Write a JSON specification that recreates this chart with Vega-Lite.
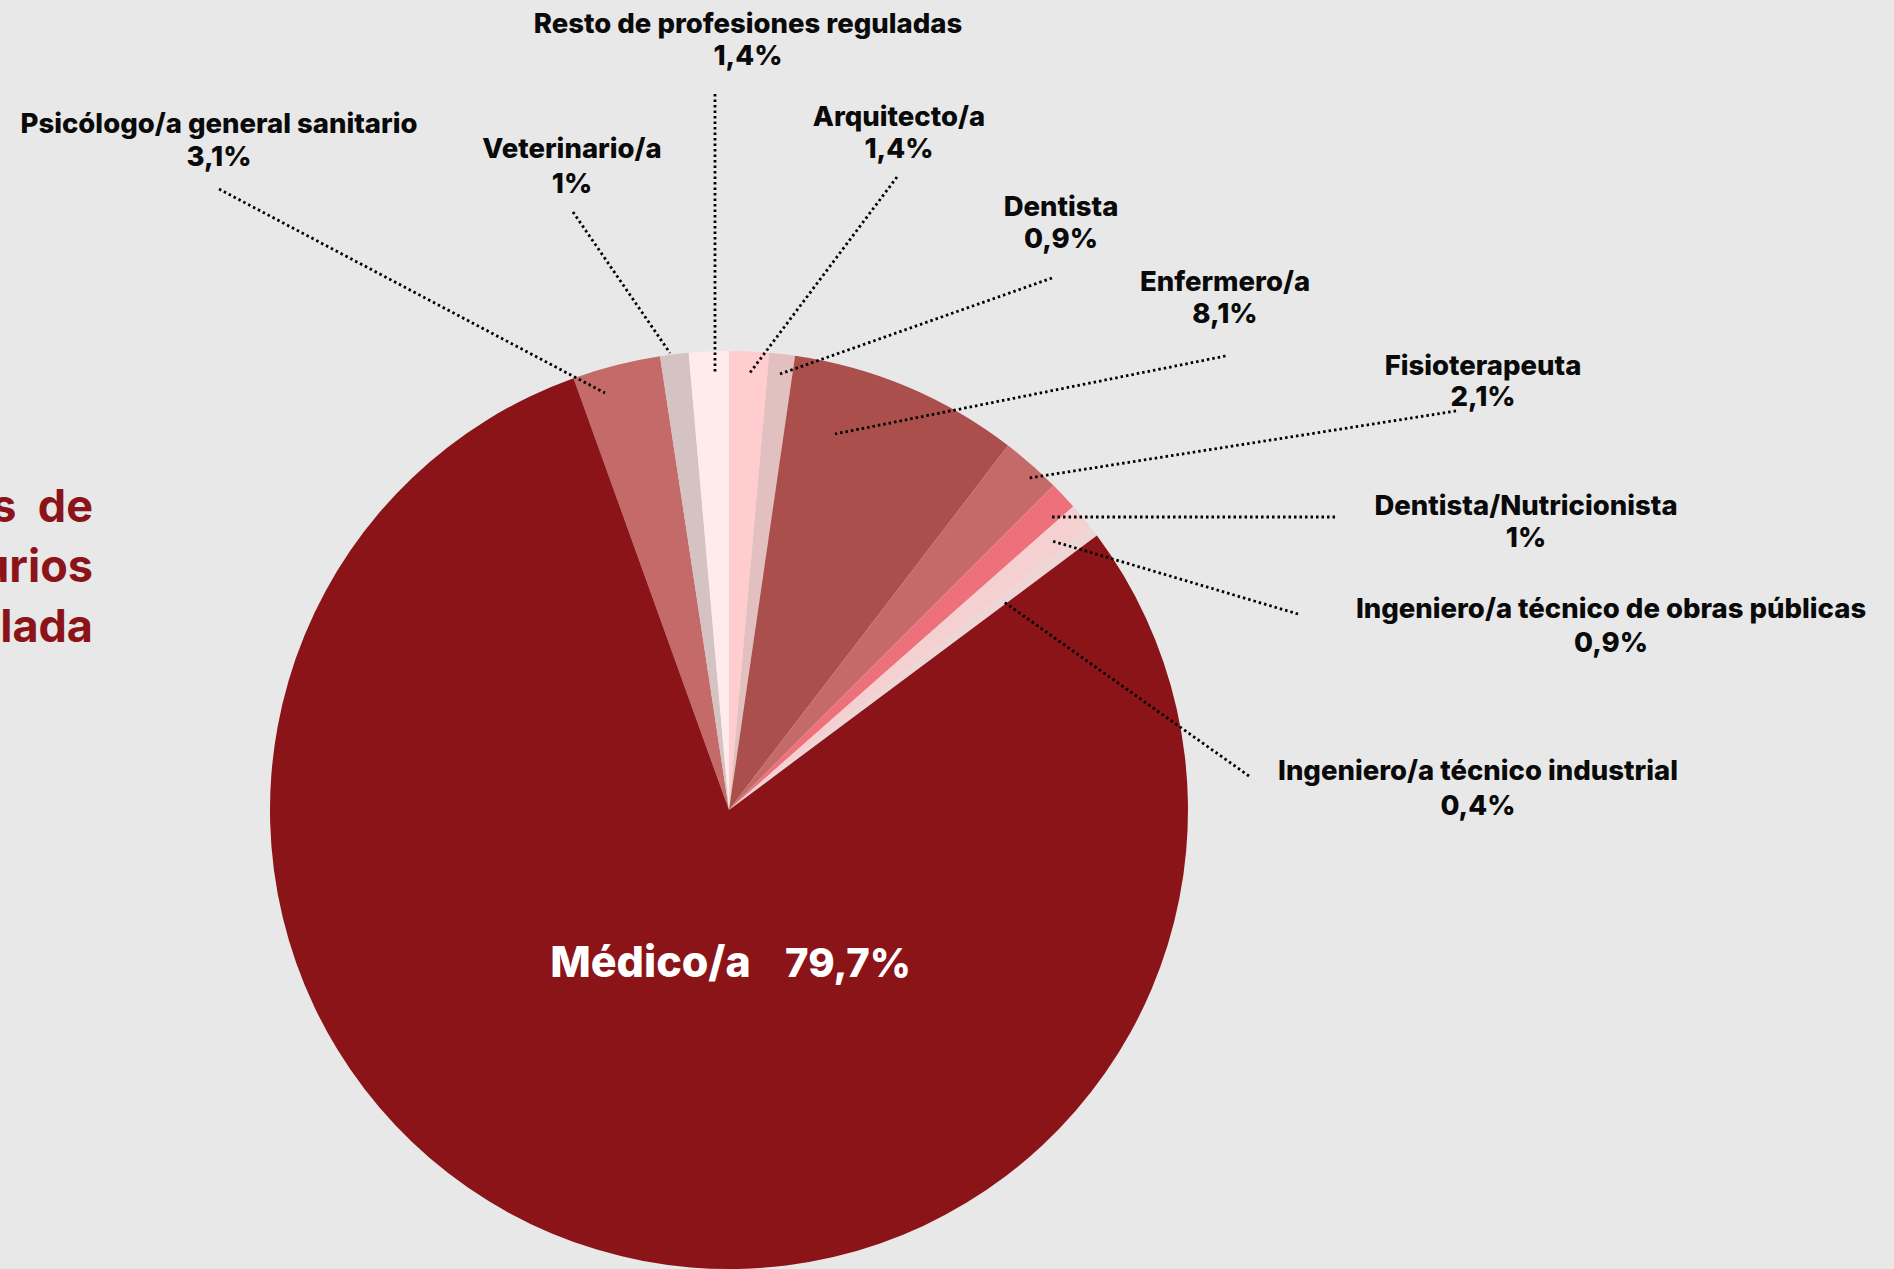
{
  "$schema": "https://vega.github.io/schema/vega-lite/v6.json",
  "width": 1894,
  "height": 1269,
  "autosize": {"type": "none"},
  "padding": 0,
  "background": "#E8E8E8",
  "config": {
    "view": {"stroke": null},
    "locale": {"number": {"decimal": ",", "thousands": ".", "grouping": [3], "currency": ["", " €"]}},
    "text": {"font": "Inter", "fontWeight": 800}
  },
  "datasets": {
    "cuotas": [
      {"profesion": "Psicólogo/a general sanitario", "cuota": 0.031, "orden": 1},
      {"profesion": "Veterinario/a", "cuota": 0.01, "orden": 2},
      {"profesion": "Resto de profesiones reguladas", "cuota": 0.014, "orden": 3},
      {"profesion": "Arquitecto/a", "cuota": 0.014, "orden": 4},
      {"profesion": "Dentista", "cuota": 0.009, "orden": 5},
      {"profesion": "Enfermero/a", "cuota": 0.081, "orden": 6},
      {"profesion": "Fisioterapeuta", "cuota": 0.021, "orden": 7},
      {"profesion": "Dentista/Nutricionista", "cuota": 0.01, "orden": 8},
      {"profesion": "Ingeniero/a técnico de obras públicas", "cuota": 0.009, "orden": 9},
      {"profesion": "Ingeniero/a técnico industrial", "cuota": 0.004, "orden": 10},
      {"profesion": "Médico/a", "cuota": 0.797, "orden": 11}
    ],
    "etiquetas": [
      {"profesion": "Psicólogo/a general sanitario", "nx": -1.1111, "ny": 1.4749, "px": -1.1111, "py": 1.4031},
      {"profesion": "Veterinario/a", "nx": -0.342, "ny": 1.4205, "px": -0.342, "py": 1.3442},
      {"profesion": "Resto de profesiones reguladas", "nx": 0.0414, "ny": 1.6928, "px": 0.0414, "py": 1.6231},
      {"profesion": "Arquitecto/a", "nx": 0.3704, "ny": 1.4902, "px": 0.3704, "py": 1.4205},
      {"profesion": "Dentista", "nx": 0.7233, "ny": 1.2941, "px": 0.7233, "py": 1.2244},
      {"profesion": "Enfermero/a", "nx": 1.0806, "ny": 1.1307, "px": 1.0806, "py": 1.061},
      {"profesion": "Fisioterapeuta", "nx": 1.6427, "ny": 0.9477, "px": 1.6427, "py": 0.8802},
      {"profesion": "Dentista/Nutricionista", "nx": 1.7364, "ny": 0.6427, "px": 1.7364, "py": 0.573},
      {"profesion": "Ingeniero/a técnico de obras públicas", "nx": 1.9216, "ny": 0.4183, "px": 1.9216, "py": 0.3442},
      {"profesion": "Ingeniero/a técnico industrial", "nx": 1.6318, "ny": 0.0654, "px": 1.6318, "py": -0.0109},
      {"profesion": "Médico/a", "nx": -0.171, "ny": -0.3638, "px": 0.2593, "py": -0.3638}
    ],
    "guias": [
      {"profesion": "Psicólogo/a general sanitario", "ax": -1.1111, "ay": 1.3529, "bx": -0.2702, "by": 0.9085},
      {"profesion": "Veterinario/a", "ax": -0.3399, "ay": 1.3028, "bx": -0.1285, "by": 0.9956},
      {"profesion": "Resto de profesiones reguladas", "ax": -0.0305, "ay": 1.5599, "bx": -0.0305, "by": 0.9521},
      {"profesion": "Arquitecto/a", "ax": 0.366, "ay": 1.3791, "bx": 0.0436, "by": 0.9499},
      {"profesion": "Dentista", "ax": 0.7037, "ay": 1.159, "bx": 0.1111, "by": 0.9499},
      {"profesion": "Enfermero/a", "ax": 1.0817, "ay": 0.9891, "bx": 0.2309, "by": 0.8192},
      {"profesion": "Fisioterapeuta", "ax": 1.5839, "ay": 0.8693, "bx": 0.6536, "by": 0.7233},
      {"profesion": "Dentista/Nutricionista", "ax": 1.3203, "ay": 0.6383, "bx": 0.6972, "by": 0.6383},
      {"profesion": "Ingeniero/a técnico de obras públicas", "ax": 1.2397, "ay": 0.427, "bx": 0.7037, "by": 0.5861},
      {"profesion": "Ingeniero/a técnico industrial", "ax": 1.1329, "ay": 0.0741, "bx": 0.5991, "by": 0.4532}
    ],
    "titulo": [
      {"linea": "s\u00a0\u00a0de", "tx": -1.3856, "ty": 0.6275},
      {"linea": "urios", "tx": -1.3856, "ty": 0.4967},
      {"linea": "lada", "tx": -1.3856, "ty": 0.366}
    ]
  },
  "layer": [
    {
      "data": {"name": "cuotas"},
      "mark": {"type": "arc", "outerRadius": 459},
      "encoding": {
        "x": {"datum": 0, "type": "quantitative", "scale": {"domain": [-1.5882, 2.5381], "nice": false, "zero": false}, "axis": null},
        "y": {"datum": 0, "type": "quantitative", "scale": {"domain": [-1.0, 1.7647], "nice": false, "zero": false}, "axis": null},
        "theta": {"field": "cuota", "type": "quantitative", "stack": true, "scale": {"domain": [0, 1], "range": [-0.3456, 5.9376]}},
        "order": {"field": "orden", "type": "quantitative"},
        "color": {
          "field": "profesion",
          "type": "nominal",
          "legend": null,
          "scale": {
            "domain": ["Psicólogo/a general sanitario", "Veterinario/a", "Resto de profesiones reguladas", "Arquitecto/a", "Dentista", "Enfermero/a", "Fisioterapeuta", "Dentista/Nutricionista", "Ingeniero/a técnico de obras públicas", "Ingeniero/a técnico industrial", "Médico/a"],
            "range": ["#C46A69", "#D5C2C2", "#FFEBEB", "#FFCDCD", "#E2C0C0", "#AA4F4C", "#C46A69", "#EE707B", "#F4D0D0", "#EFD6D6", "#8B1419"]
          }
        }
      }
    },
    {
      "data": {"name": "guias"},
      "mark": {"type": "rule", "color": "#000000", "strokeWidth": 2.8, "strokeDash": [2.5, 3]},
      "encoding": {
        "x": {"field": "ax", "type": "quantitative"},
        "y": {"field": "ay", "type": "quantitative"},
        "x2": {"field": "bx"},
        "y2": {"field": "by"}
      }
    },
    {
      "data": {"name": "etiquetas"},
      "mark": {"type": "text", "align": "center", "baseline": "alphabetic"},
      "encoding": {
        "x": {"field": "nx", "type": "quantitative"},
        "y": {"field": "ny", "type": "quantitative"},
        "text": {"field": "profesion", "type": "nominal"},
        "size": {"condition": {"test": "datum.profesion === 'Médico/a'", "value": 43}, "value": 27.5},
        "color": {"condition": {"test": "datum.profesion === 'Médico/a'", "value": "#FFFFFF"}, "value": "#0A0A0A"}
      }
    },
    {
      "data": {"name": "etiquetas"},
      "transform": [{"lookup": "profesion", "from": {"data": {"name": "cuotas"}, "key": "profesion", "fields": ["cuota"]}}],
      "mark": {"type": "text", "align": "center", "baseline": "alphabetic"},
      "encoding": {
        "x": {"field": "px", "type": "quantitative"},
        "y": {"field": "py", "type": "quantitative"},
        "text": {"field": "cuota", "type": "quantitative", "format": ".3~%"},
        "size": {"condition": {"test": "datum.profesion === 'Médico/a'", "value": 40}, "value": 27.5},
        "color": {"condition": {"test": "datum.profesion === 'Médico/a'", "value": "#FFFFFF"}, "value": "#0A0A0A"}
      }
    },
    {
      "data": {"name": "titulo"},
      "mark": {"type": "text", "align": "right", "baseline": "alphabetic", "fontSize": 45, "fontWeight": 700, "color": "#8B1419"},
      "encoding": {
        "x": {"field": "tx", "type": "quantitative"},
        "y": {"field": "ty", "type": "quantitative"},
        "text": {"field": "linea", "type": "nominal"}
      }
    }
  ]
}
